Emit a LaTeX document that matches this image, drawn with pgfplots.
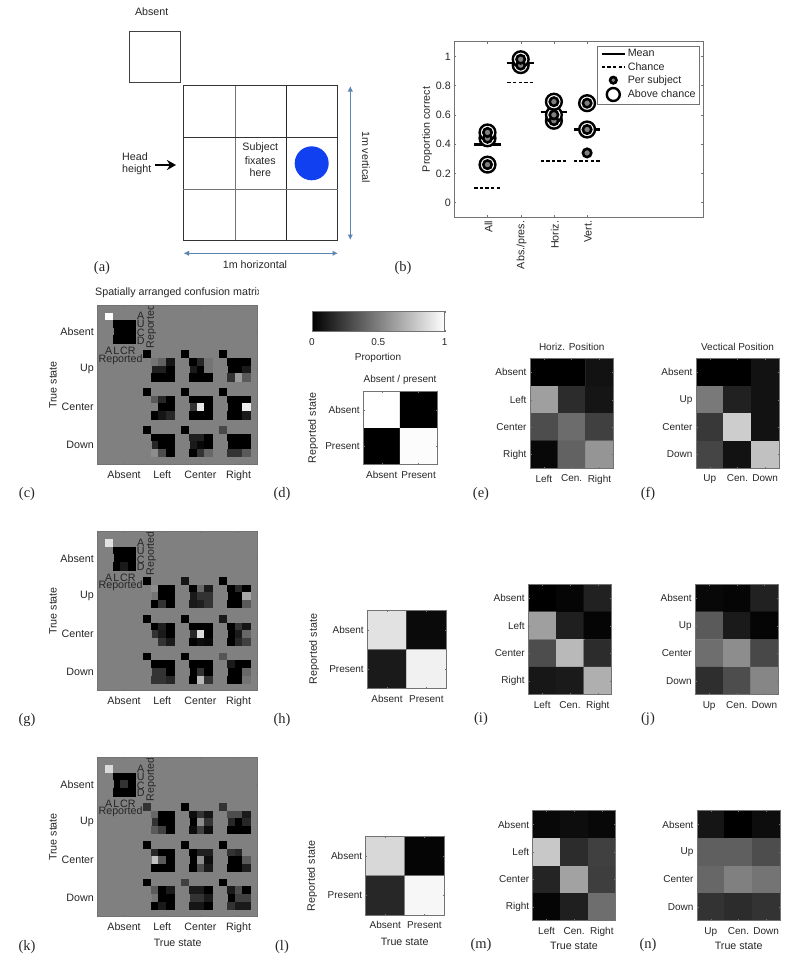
\documentclass[border=0pt]{standalone}
\usepackage{pgfplots}
\usepackage{fontspec}
\usetikzlibrary{arrows.meta}
\setmainfont{Liberation Sans}
\newfontfamily\serifl{Liberation Serif}
\pgfplotsset{compat=1.18}
\definecolor{txt}{gray}{0.15}
\definecolor{axc}{gray}{0.45}
\definecolor{arr}{HTML}{5B84B1}
\newcommand{\fa}{\fontsize{10.7}{12}\selectfont\color{txt}}
\newcommand{\fb}{\fontsize{10}{12}\selectfont\color{txt}}
\newcommand{\T}[3]{\node[inner sep=0pt,font=\fa,align=center] at (#1,#2) {#3};}
\newcommand{\Tb}[3]{\node[inner sep=0pt,font=\fb,align=center] at (#1,#2) {#3};}
\newcommand{\Lab}[3]{\node[inner sep=0pt,font=\fontsize{14.5}{16}\selectfont\serifl,text=txt] at (#1,#2) {#3};}
\pgfplotsset{
  hbase/.style={scale only axis,anchor=north west,enlargelimits=false,axis on top,
    colormap/blackwhite,point meta min=0,point meta max=1,y dir=reverse,
    axis line style={draw=axc,line width=0.7pt},
    tick style={draw=axc,line width=0.4pt},major tick length=1.5pt,tick align=inside,
    tick label style={font=\fb},xticklabel style={yshift=-3pt}},
  h34/.style={hbase,xmin=-0.5,xmax=2.5,ymin=-0.5,ymax=3.5,xtick={0,1,2},ytick={0,1,2,3}},
  h22/.style={hbase,xmin=-0.5,xmax=1.5,ymin=-0.5,ymax=1.5,xtick={0,1},ytick={0,1},
    xticklabels={Absent,Present},yticklabels={Absent,Present}},
  hbig/.style={hbase,xmin=0,xmax=21,ymin=0,ymax=21,xtick={3.5,8.5,13.5,18.5},ytick={3.5,8.5,13.5,18.5},
    xticklabels={Absent,Left,Center,Right},yticklabels={Absent,Up,Center,Down},
    axis background/.style={fill={rgb,1:red,0.5;green,0.5;blue,0.5}},
    tick label style={font=\fa}},
}
% heat map: x,y,w,h of the box in pixels, columns, options, values row by row
\newcommand{\heat}[7]{%
\begin{axis}[at={(#1pt,-#2pt)},width=#3pt,height=#4pt,#6]
\addplot[matrix plot*,mesh/cols=#5,point meta=explicit]
  table[row sep=\\,x expr={mod(\coordindex,#5)},y expr={floor(\coordindex/#5)},meta=z]{z\\#7};
\end{axis}}
% 4x4 group of the spatial confusion matrix, from column #1 and row #2
\newcommand{\grp}[3]{%
\addplot[scatter,only marks,mark=square*,mark size=3.8pt,point meta=explicit,
  scatter/use mapped color={draw=mapped color,fill=mapped color},mark options={line width=0.1pt}]
  table[row sep=\\,x expr={#1+0.5+mod(\coordindex,4)},y expr={#2+0.5+floor(\coordindex/4)},meta=z]{z\\#3};}
\newcommand{\inner}{%
\node[font=\fa,inner sep=0pt] at (axis cs:1.5,6.08) {A};
\node[font=\fa,inner sep=0pt] at (axis cs:2.5,6.08) {L};
\node[font=\fa,inner sep=0pt] at (axis cs:3.5,6.08) {C};
\node[font=\fa,inner sep=0pt] at (axis cs:4.5,6.08) {R};
\node[font=\fa,inner sep=0pt] at (axis cs:3.05,7.2) {Reported};
\node[font=\fa,inner sep=0pt] at (axis cs:5.68,1.45) {A};
\node[font=\fa,inner sep=0pt] at (axis cs:5.68,2.55) {U};
\node[font=\fa,inner sep=0pt] at (axis cs:5.68,3.65) {C};
\node[font=\fa,inner sep=0pt] at (axis cs:5.68,4.7) {D};
\node[font=\fa,inner sep=0pt,rotate=90] at (axis cs:7.03,2.85) {Reported};}
\begin{document}
\begin{tikzpicture}
\path[use as bounding box] (0pt,0pt) rectangle (800pt,-961pt);
% ---------- (a)
\begin{scope}[x=1pt,y=-1pt]
\draw[black!75,line width=0.7pt] (129.7,31) rectangle (180,82.3);
\draw[black!80,line width=0.7pt] (183.3,85.7) rectangle (337.7,240.3);
\draw[black!55,line width=0.8pt] (235,85.7)--(235,240.3);
\draw[black!85,line width=0.7pt] (286.3,85.7)--(286.3,240.3);
\draw[black!80,line width=0.6pt] (183.3,137)--(337.7,137);
\draw[black!55,line width=0.9pt] (183.3,189)--(337.7,189);
\fill[fill={rgb,255:red,16;green,64;blue,240}] (311.7,163.3) circle (17);
\draw[-{Stealth[length=9pt,width=10pt]},black,line width=2.4pt] (155,165)--(176,165);
\draw[{Latex[length=5.5pt,width=5.5pt]}-{Latex[length=5.5pt,width=5.5pt]},arr,line width=1.4pt] (350.3,86)--(350.3,240);
\draw[{Latex[length=5.5pt,width=5.5pt]}-{Latex[length=5.5pt,width=5.5pt]},arr,line width=1.4pt] (183.5,253.3)--(338,253.3);
\T{151.7}{12}{Absent}
\node[inner sep=0pt,font=\fa,anchor=west] at (122,157) {Head};
\node[inner sep=0pt,font=\fa,anchor=west] at (122,169.5) {height};
\T{260.3}{148}{Subject}
\T{260.3}{160.7}{fixates}
\T{260.3}{173}{here}
\node[inner sep=0pt,font=\fa,rotate=-90] at (366,157) {1m vertical};
\T{255}{265}{1m horizontal}
\end{scope}
% ---------- (b)
\begin{axis}[at={(454.3pt,-41.7pt)},anchor=north west,scale only axis,width=249pt,height=175.6pt,
  xmin=0,xmax=7.5,ymin=-0.1,ymax=1.1,xtick={1,2,3,4},xticklabels={All,Abs./pres.,Horiz.,Vert.},
  ytick={0,0.2,0.4,0.6,0.8,1},
  yticklabel style={/pgf/number format/assume math mode=true,/pgf/number format/fixed},
  xticklabel style={rotate=90,anchor=east,font=\fa,yshift=-1pt},
  tick label style={font=\fa},
  axis line style={draw=axc,line width=0.7pt},
  tick style={draw=axc,line width=0.4pt},major tick length=2pt,tick align=inside,
  ylabel={Proportion correct},ylabel style={font=\fa,yshift=-3pt},
  unbounded coords=jump,
  legend style={at={(0.984,0.977)},anchor=north east,draw=axc,fill=white,font=\fa,
    inner xsep=1.5pt,inner ysep=1.5pt,row sep=0pt,cells={anchor=west}},
  legend cell align=left]
\addplot[forget plot,black,line width=2.2pt] table[row sep=\\]{x y\\0.6 0.397\\1.4 0.397\\1.5 nan\\1.6 0.955\\2.4 0.955\\2.5 nan\\2.6 0.62\\3.4 0.62\\3.5 nan\\3.6 0.5\\4.4 0.5\\};
\addplot[forget plot,black,line width=1.6pt,dash pattern=on 3.3pt off 2.3pt] table[row sep=\\]{x y\\0.6 0.1\\1.4 0.1\\1.5 nan\\1.6 0.82\\2.4 0.82\\2.5 nan\\2.6 0.285\\3.4 0.285\\3.5 nan\\3.6 0.285\\4.4 0.285\\};
\addplot[forget plot,only marks,mark=*,mark size=7.9pt,mark options={draw=black,fill=white,line width=2.4pt}] table[row sep=\\]{x y\\1 0.26\\1 0.44\\1 0.48\\2 0.94\\2 0.98\\3 0.56\\3 0.6\\3 0.69\\4 0.5\\4 0.68\\};
\addplot[forget plot,only marks,mark=*,mark size=4.2pt,mark options={draw=black,fill=gray,line width=2.6pt}] table[row sep=\\]{x y\\1 0.26\\1 0.44\\1 0.48\\2 0.94\\2 0.98\\3 0.56\\3 0.6\\3 0.69\\4 0.34\\4 0.5\\4 0.68\\};
\addlegendimage{legend image code/.code={\path[draw=none] (0pt,0pt)--(26pt,0pt);\draw[black,line width=2pt] (3pt,0pt)--(26pt,0pt);}}
\addlegendentry{Mean}
\addlegendimage{legend image code/.code={\path[draw=none] (0pt,0pt)--(26pt,0pt);\draw[black,line width=1.6pt,dash pattern=on 3.3pt off 2.3pt] (3pt,0pt)--(26pt,0pt);}}
\addlegendentry{Chance}
\addlegendimage{legend image code/.code={\path[draw=none] (0pt,0pt)--(26pt,0pt);\draw[black,fill=gray,line width=2.6pt] (14.5pt,0pt) circle (3.2pt);}}
\addlegendentry{Per subject}
\addlegendimage{legend image code/.code={\path[draw=none] (0pt,0pt)--(26pt,0pt);\draw[black,fill=white,line width=2.4pt] (14.5pt,0pt) circle (6.5pt);}}
\addlegendentry{Above chance}
\end{axis}
% ---------- (c)
\begin{axis}[hbig,at={(97.3pt,-305pt)},width=160.4pt,height=159pt]
\grp{1}{1}{1\\.5\\.5\\.5\\.5\\0\\0\\0\\.5\\0\\0\\0\\.5\\0\\0\\0\\}
\grp{6}{6}{0\\.5\\.5\\.5\\.5\\.45\\.38\\.08\\.5\\.12\\.12\\0\\.5\\0\\0\\0\\}
\grp{11}{6}{0\\.5\\.5\\.5\\.5\\0\\.15\\.45\\.5\\.1\\0\\.45\\.5\\0\\0\\0\\}
\grp{16}{6}{0\\.5\\.5\\.5\\.5\\0\\0\\0\\.5\\0\\0\\.1\\.5\\.2\\.6\\.35\\}
\grp{6}{11}{0\\.5\\.5\\.5\\.5\\.35\\.15\\0\\.5\\.5\\0\\0\\.5\\0\\.08\\.15\\}
\grp{11}{11}{0\\.5\\.5\\.5\\.5\\0\\0\\0\\.5\\.2\\.9\\0\\.5\\0\\0\\0\\}
\grp{16}{11}{0\\.5\\.5\\.5\\.5\\0\\0\\0\\.5\\0\\0\\.92\\.5\\0\\0\\.1\\}
\grp{6}{16}{0\\.5\\.5\\.5\\.5\\0\\0\\0\\.5\\.15\\0\\0\\.5\\.55\\.3\\0\\}
\grp{11}{16}{0\\.5\\.5\\.5\\.5\\.12\\.12\\0\\.5\\.1\\.03\\0\\.5\\0\\.2\\.4\\}
\grp{16}{16}{.28\\.5\\.5\\.5\\.5\\0\\0\\0\\.5\\0\\0\\0\\.5\\.2\\.2\\.35\\}
\inner
\end{axis}
% ---------- (g)
\begin{axis}[hbig,at={(97.3pt,-531.7pt)},width=160.4pt,height=159pt]
\grp{1}{1}{.88\\.5\\.5\\.5\\.5\\0\\0\\0\\.5\\0\\0\\0\\.5\\0\\.1\\0\\}
\grp{6}{6}{0\\.5\\.5\\.5\\.5\\.55\\0\\0\\.5\\.45\\0\\0\\.5\\0\\.2\\0\\}
\grp{11}{6}{.08\\.5\\.5\\.5\\.5\\0\\.4\\.1\\.5\\.1\\.2\\.2\\.5\\.1\\.12\\.2\\}
\grp{16}{6}{0\\.5\\.5\\.5\\.5\\0\\.15\\0\\.5\\0\\0\\.65\\.5\\0\\0\\.35\\}
\grp{6}{11}{0\\.5\\.5\\.5\\.5\\0\\.12\\0\\.5\\.2\\.1\\0\\.5\\.5\\.2\\.1\\}
\grp{11}{11}{0\\.5\\.5\\.5\\.5\\0\\0\\0\\.5\\.15\\.85\\0\\.5\\0\\.05\\.03\\}
\grp{16}{11}{.1\\.5\\.5\\.5\\.5\\0\\.2\\.08\\.5\\0\\.1\\.4\\.5\\0\\.15\\.25\\}
\grp{6}{16}{0\\.5\\.5\\.5\\.5\\0\\0\\0\\.5\\.2\\.2\\0\\.5\\.2\\.2\\.15\\}
\grp{11}{16}{0\\.5\\.5\\.5\\.5\\0\\0\\0\\.5\\0\\.2\\0\\.5\\0\\.72\\.2\\}
\grp{16}{16}{.33\\.5\\.5\\.5\\.5\\.1\\0\\0\\.5\\0\\0\\.4\\.5\\0\\0\\.45\\}
\inner
\end{axis}
% ---------- (k)
\begin{axis}[hbig,at={(97.3pt,-757.7pt)},width=160.4pt,height=159pt]
\grp{1}{1}{.85\\.5\\.5\\.5\\.5\\0\\0\\0\\.5\\0\\.2\\0\\.5\\0\\0\\0\\}
\grp{6}{6}{.2\\.5\\.5\\.5\\.5\\.4\\0\\0\\.5\\.2\\0\\0\\.5\\.35\\.25\\0\\}
\grp{11}{6}{0\\.5\\.5\\.5\\.5\\.05\\.2\\.08\\.5\\0\\.55\\.2\\.5\\.05\\.25\\.05\\}
\grp{16}{6}{.2\\.5\\.5\\.5\\.5\\.3\\.3\\.1\\.5\\.15\\0\\.15\\.5\\0\\0\\0\\}
\grp{6}{11}{0\\.5\\.5\\.5\\.5\\.15\\0\\0\\.5\\.75\\.35\\0\\.5\\0\\0\\0\\}
\grp{11}{11}{0\\.5\\.5\\.5\\.5\\0\\.12\\.12\\.5\\0\\.55\\.05\\.5\\0\\.3\\.1\\}
\grp{16}{11}{0\\.5\\.5\\.5\\.5\\.2\\.15\\.5\\.5\\0\\0\\.35\\.5\\0\\0\\.12\\}
\grp{6}{16}{0\\.5\\.5\\.5\\.5\\.35\\0\\.1\\.5\\.45\\0\\0\\.5\\0\\.1\\0\\}
\grp{11}{16}{.25\\.5\\.5\\.5\\.5\\.1\\.1\\0\\.5\\.2\\.2\\.1\\.5\\.08\\.08\\0\\}
\grp{16}{16}{0\\.5\\.5\\.5\\.5\\.1\\.3\\0\\.5\\0\\.25\\.25\\.5\\.2\\.1\\.1\\}
\inner
\end{axis}
% ---------- colour bar
\begin{axis}[at={(312pt,-311pt)},anchor=north west,scale only axis,width=132.7pt,height=20.7pt,
  xmin=0,xmax=1,ymin=0,ymax=1,xtick={0,0.5,1},xticklabels={0,0.5,1},ytick=\empty,
  axis on top,axis line style={draw=axc,line width=0.7pt},major tick length=1.5pt,tick align=inside,
  tick style={draw=axc,line width=0.4pt},tick label style={font=\fb},xticklabel style={yshift=-3pt}]
\addplot[draw=none,forget plot] coordinates {(0,0)(1,1)};
\fill[left color=black,right color=white] (axis cs:0,0) rectangle (axis cs:1,1);
\end{axis}
% ---------- small matrices
\heat{363.3}{391.7}{73.7}{73}{2}{h22}{1\\0\\0\\.98\\}
\heat{530}{358.7}{83.3}{109.6}{3}{h34,xticklabels={Left,Cen.,Right},yticklabels={Absent,Left,Center,Right}}{0\\0\\.07\\.62\\.17\\.08\\.3\\.42\\.25\\.03\\.38\\.58\\}
\heat{696}{358.7}{83}{109.6}{3}{h34,xticklabels={Up,Cen.,Down},yticklabels={Absent,Up,Center,Down}}{0\\0\\.07\\.47\\.13\\.07\\.22\\.8\\.07\\.27\\.07\\.75\\}
\heat{367.3}{610.7}{78.7}{78}{2}{h22}{.88\\.04\\.1\\.94\\}
\heat{528.3}{584.3}{83.4}{110.4}{3}{h34,xticklabels={Left,Cen.,Right},yticklabels={Absent,Left,Center,Right}}{0\\.02\\.13\\.62\\.12\\.02\\.3\\.72\\.17\\.09\\.1\\.68\\}
\heat{695.3}{584.3}{83}{110.4}{3}{h34,xticklabels={Up,Cen.,Down},yticklabels={Absent,Up,Center,Down}}{.03\\.02\\.13\\.35\\.1\\.02\\.43\\.55\\.28\\.18\\.3\\.52\\}
\heat{365.7}{836.7}{78.3}{78.3}{2}{h22}{.84\\.02\\.15\\.96\\}
\heat{532.7}{810.7}{83}{110}{3}{h34,xticklabels={Left,Cen.,Right},yticklabels={Absent,Left,Center,Right}}{.03\\.05\\.03\\.78\\.17\\.25\\.14\\.63\\.24\\.02\\.12\\.43\\}
\heat{697}{810.7}{83}{110}{3}{h34,xticklabels={Up,Cen.,Down},yticklabels={Absent,Up,Center,Down}}{.08\\0\\.05\\.37\\.37\\.3\\.4\\.5\\.45\\.2\\.17\\.2\\}
% ---------- texts
\begin{scope}[x=1pt,y=-1pt]
\begin{scope}
\clip (90,285) rectangle (258.5,300);
\node[inner sep=0pt,font=\fa,anchor=west] at (95,293) {Spatially arranged confusion matrix};
\end{scope}
\node[inner sep=0pt,font=\fa,rotate=90] at (53,385) {True state};
\node[inner sep=0pt,font=\fa,rotate=90] at (53,611) {True state};
\node[inner sep=0pt,font=\fa,rotate=90] at (53,837) {True state};
\T{177.7}{942.7}{True state}
\Tb{378}{358}{Proportion}
\Tb{400}{380}{Absent / present}
\Tb{571.7}{347}{Horiz. Position}
\Tb{737.5}{347}{Vectical Position}
\node[inner sep=0pt,font=\fa,rotate=90] at (313,428) {Reported state};
\node[inner sep=0pt,font=\fa,rotate=90] at (314,649) {Reported state};
\node[inner sep=0pt,font=\fa,rotate=90] at (312,876) {Reported state};
\T{404.7}{942}{True state}
\T{574}{945.7}{True state}
\T{738.7}{945.7}{True state}
\Lab{102}{268}{(a)}
\Lab{403}{268}{(b)}
\Lab{27}{494}{(c)}
\Lab{282}{494}{(d)}
\Lab{481}{494}{(e)}
\Lab{648}{494}{(f)}
\Lab{27}{720}{(g)}
\Lab{282}{720}{(h)}
\Lab{481}{719}{(i)}
\Lab{648}{719}{(j)}
\Lab{27}{947}{(k)}
\Lab{282}{947}{(l)}
\Lab{481}{945}{(m)}
\Lab{648}{945}{(n)}
\end{scope}
\end{tikzpicture}
\end{document}
